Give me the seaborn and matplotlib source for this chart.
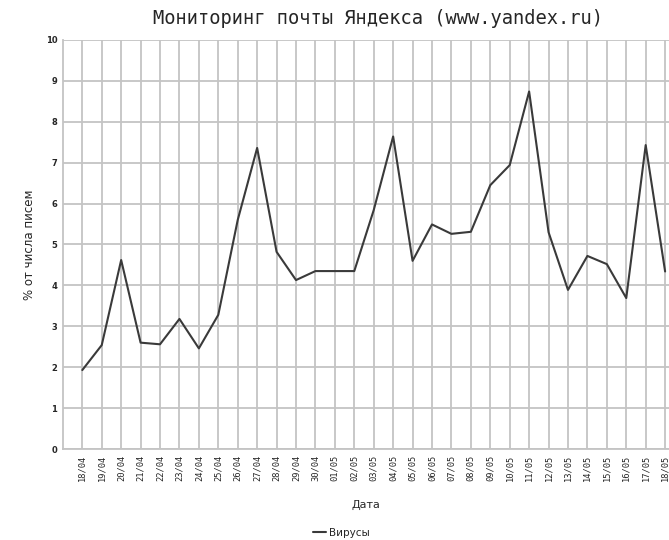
import pandas as pd
import matplotlib.pyplot as plt
import seaborn as sns

# Dates (day/month) and share of virus letters, % of all mail
dates = ["18/04", "19/04", "20/04", "21/04", "22/04", "23/04", "24/04", "25/04",
         "26/04", "27/04", "28/04", "29/04", "30/04", "01/05", "02/05", "03/05",
         "04/05", "05/05", "06/05", "07/05", "08/05", "09/05", "10/05", "11/05",
         "12/05", "13/05", "14/05", "15/05", "16/05", "17/05", "18/05"]
viruses = [1.93, 2.54, 4.62, 2.60, 2.56, 3.18, 2.46, 3.28,
           5.60, 7.36, 4.82, 4.13, 4.35, 4.35, 4.35, 5.84,
           7.64, 4.60, 5.49, 5.26, 5.31, 6.45, 6.94, 8.74,
           5.30, 3.89, 4.72, 4.52, 3.69, 7.43, 4.34]
yticks = list(range(0, 11))

df = pd.DataFrame({"pos": range(len(dates)), "Дата": dates, "Вирусы": viruses})

sns.set_style("whitegrid")
plt.rcParams['font.family'] = ['DejaVu Sans']

fig = plt.figure(figsize=(6.69, 5.40), dpi=100)
ax = fig.add_axes([0.094, 0.1685, 0.906, 0.7575])

sns.lineplot(data=df, x="pos", y="Вирусы", ax=ax, color="#3a3a3a",
             linewidth=1.5, label="Вирусы", legend=False)

ax.set_xlim(-1, 30.2)
ax.set_ylim(0, 10)
ax.set_xticks(df["pos"])
ax.set_xticklabels(dates, rotation=90, fontsize=6.3, family="DejaVu Sans Mono")
ax.set_yticks(yticks)
ax.set_yticklabels([str(t) for t in yticks], fontsize=6, fontweight="bold")
ax.tick_params(axis="both", length=0, pad=4)

ax.grid(True, color="#c4c4c4", linewidth=1.3)
for side in ["top", "right"]:
    ax.spines[side].set_visible(False)
for side in ["left", "bottom"]:
    ax.spines[side].set_color("#c4c4c4")
    ax.spines[side].set_linewidth(1.3)

fig.text(0.565, 0.966, "Мониторинг почты Яндекса (www.yandex.ru)",
         ha="center", va="center", fontsize=13.5, family="DejaVu Sans Mono")
ax.set_xlabel("Дата", fontsize=8, labelpad=14)
ax.set_ylabel("% от числа писем", fontsize=8.5, labelpad=7)

handles, labels = ax.get_lines()[:1], ["Вирусы"]
fig.legend(handles, labels, loc="center", bbox_to_anchor=(0.51, 0.013),
           frameon=False, fontsize=7.5, handlelength=1.2, handletextpad=0.3)

fig.savefig("out.png", dpi=100)
